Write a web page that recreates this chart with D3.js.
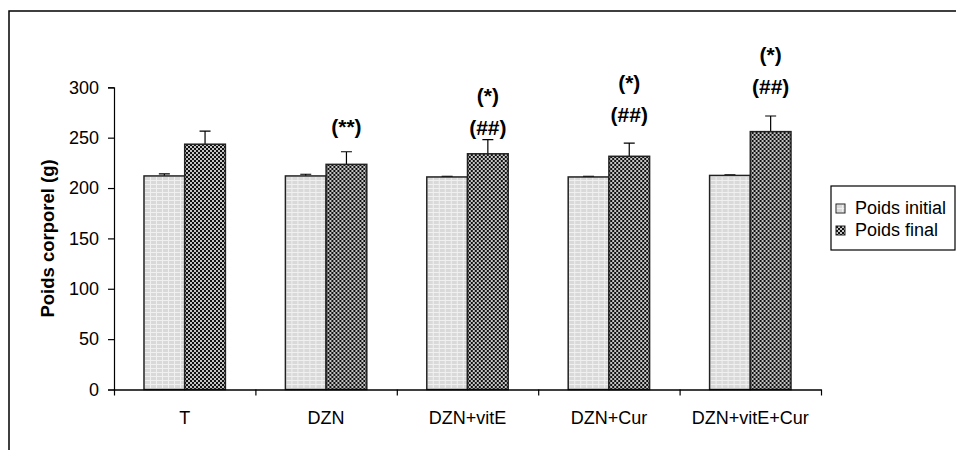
<!DOCTYPE html>
<html>
<head>
<meta charset="utf-8">
<script src="https://cdnjs.cloudflare.com/ajax/libs/d3/7.8.5/d3.min.js"></script>
<style>
body { margin: 0; background: #fff; }
text { font-family: Arial, "Liberation Sans", sans-serif; fill: #000; }
</style>
</head>
<body>
<div class="chart"></div>
<script>
var groups = ["T", "DZN", "DZN+vitE", "DZN+Cur", "DZN+vitE+Cur"];
var seriesNames = ["Poids initial", "Poids final"];
var initialWeight = [212, 212, 211, 211, 212.5];
var initialErr = [2, 1.7, 0.5, 0.5, 0.5];
var finalWeight = [243.5, 223.5, 234, 231.5, 256];
var finalErr = [13, 12.5, 14, 13, 15.5];
var marks = [[], ["(**)"], ["(*)", "(##)"], ["(*)", "(##)"], ["(*)", "(##)"]];
// level (in g) where the lowest line of each mark sits
var markLevel = [0, 253.5, 252.5, 265.5, 293.5];
var yTicks = [0, 50, 100, 150, 200, 250, 300];

var svgWidth = 956;
var svgHeight = 450;

var plot = { left: 114, right: 821, top: 87.3, bottom: 389.5 };

var svg = d3.select(".chart")
  .append("svg")
  .attr("width", svgWidth)
  .attr("height", svgHeight);

// fill patterns for the two series
var defs = svg.append("defs");

var pInit = defs.append("pattern")
  .attr("id", "pInit")
  .attr("patternUnits", "userSpaceOnUse")
  .attr("width", 6)
  .attr("height", 4);
pInit.append("rect").attr("width", 6).attr("height", 4).attr("fill", "#d9d9d9");
pInit.append("rect").attr("width", 6).attr("height", 1).attr("fill", "#f0f0f0");
pInit.append("rect").attr("width", 1).attr("height", 4).attr("fill", "#f0f0f0");

var pFinal = defs.append("pattern")
  .attr("id", "pFinal")
  .attr("patternUnits", "userSpaceOnUse")
  .attr("width", 4)
  .attr("height", 4);
pFinal.append("rect").attr("width", 4).attr("height", 4).attr("fill", "#c4c4c4");
pFinal.append("rect").attr("width", 2).attr("height", 2).attr("fill", "#111");
pFinal.append("rect").attr("x", 2).attr("y", 2).attr("width", 2).attr("height", 2).attr("fill", "#111");

var fills = ["url(#pInit)", "url(#pFinal)"];

// outer frame
svg.append("rect")
  .attr("x", 9)
  .attr("y", 11)
  .attr("width", 980)
  .attr("height", 480)
  .attr("fill", "none")
  .attr("stroke", "#000")
  .attr("stroke-width", 1.5);

var x0 = d3.scaleBand()
  .domain(groups)
  .range([plot.left, plot.right]);

var x1 = d3.scaleBand()
  .domain(seriesNames)
  .range([30, x0.bandwidth() - 30]);

var y = d3.scaleLinear()
  .domain([0, 300])
  .range([plot.bottom, plot.top]);

var rows = groups.map(function(g, i) {
  return [
    { group: g, series: seriesNames[0], value: initialWeight[i], err: initialErr[i], k: 0 },
    { group: g, series: seriesNames[1], value: finalWeight[i], err: finalErr[i], k: 1 }
  ];
});

var groupG = svg.selectAll(".grp")
  .data(rows)
  .enter()
  .append("g")
  .attr("class", "grp")
  .attr("transform", function(d, i) { return `translate(${x0(groups[i])}, 0)`; });

// error bars (drawn first so bar outline sits on top)
groupG.selectAll(".err")
  .data(d => d)
  .enter()
  .append("path")
  .attr("class", "err")
  .attr("fill", "none")
  .attr("stroke", "#000")
  .attr("stroke-width", 1.2)
  .attr("d", function(d) {
    var cx = x1(d.series) + x1.bandwidth() / 2;
    var top = y(d.value + d.err);
    return `M${cx},${y(d.value)}V${top}M${cx - 5.5},${top}H${cx + 5.5}`;
  });

groupG.selectAll(".bar")
  .data(d => d)
  .enter()
  .append("rect")
  .attr("class", "bar")
  .attr("x", d => x1(d.series))
  .attr("y", d => y(d.value))
  .attr("width", x1.bandwidth())
  .attr("height", d => y(0) - y(d.value))
  .attr("fill", d => fills[d.k])
  .attr("stroke", "#222")
  .attr("stroke-width", 1.5);

// significance marks above the final bars
groupG.each(function(d, i) {
  var fin = d[1];
  var cx = x1(fin.series) + x1.bandwidth() / 2;
  var base = y(markLevel[i]);
  var lines = marks[i];
  d3.select(this).selectAll(".mark")
    .data(lines)
    .enter()
    .append("text")
    .attr("class", "mark")
    .attr("x", cx)
    .attr("y", (t, j) => base - (lines.length - 1 - j) * 32)
    .attr("text-anchor", "middle")
    .style("font-size", "21px")
    .style("font-weight", "bold")
    .text(t => t);
});

// y axis
var leftAxis = d3.axisLeft(y)
  .tickValues(yTicks)
  .tickSize(6)
  .tickPadding(9);

svg.append("g")
  .attr("transform", `translate(${plot.left}, 0)`)
  .call(leftAxis);

// x axis: labels at band centres, ticks on band edges
var bottomAxis = d3.axisBottom(x0)
  .tickSize(0)
  .tickPadding(22);

svg.append("g")
  .attr("transform", `translate(0, ${plot.bottom})`)
  .call(bottomAxis);

var edge = d3.scaleLinear()
  .domain([0, groups.length])
  .range([plot.left, plot.right]);

svg.append("g")
  .attr("transform", `translate(0, ${plot.bottom})`)
  .call(d3.axisBottom(edge).ticks(groups.length).tickSize(6).tickSizeOuter(0).tickFormat(""));

svg.selectAll(".tick text")
  .style("font-size", "18px")
  .style("font-family", "Arial, 'Liberation Sans', sans-serif");
svg.selectAll(".domain, .tick line")
  .attr("stroke", "#000")
  .attr("stroke-width", 1.2);

svg.append("text")
  .attr("transform", "rotate(-90)")
  .attr("x", -(plot.top + plot.bottom) / 2)
  .attr("y", 54)
  .attr("text-anchor", "middle")
  .style("font-size", "18.5px")
  .style("font-weight", "bold")
  .text("Poids corporel (g)");

// legend
var legend = svg.append("g");

legend.append("rect")
  .attr("x", 831)
  .attr("y", 186)
  .attr("width", 124)
  .attr("height", 64)
  .attr("fill", "#fff")
  .attr("stroke", "#000")
  .attr("stroke-width", 1.2);

var item = legend.selectAll(".item")
  .data(seriesNames)
  .enter()
  .append("g")
  .attr("class", "item")
  .attr("transform", (d, i) => `translate(836, ${204 + i * 22})`);

item.append("rect")
  .attr("width", 9)
  .attr("height", 9)
  .attr("fill", (d, i) => fills[i])
  .attr("stroke", "#222")
  .attr("stroke-width", 1);

item.append("text")
  .attr("x", 19)
  .attr("y", 10)
  .style("font-size", "18px")
  .text(d => d);
</script>
</body>
</html>
